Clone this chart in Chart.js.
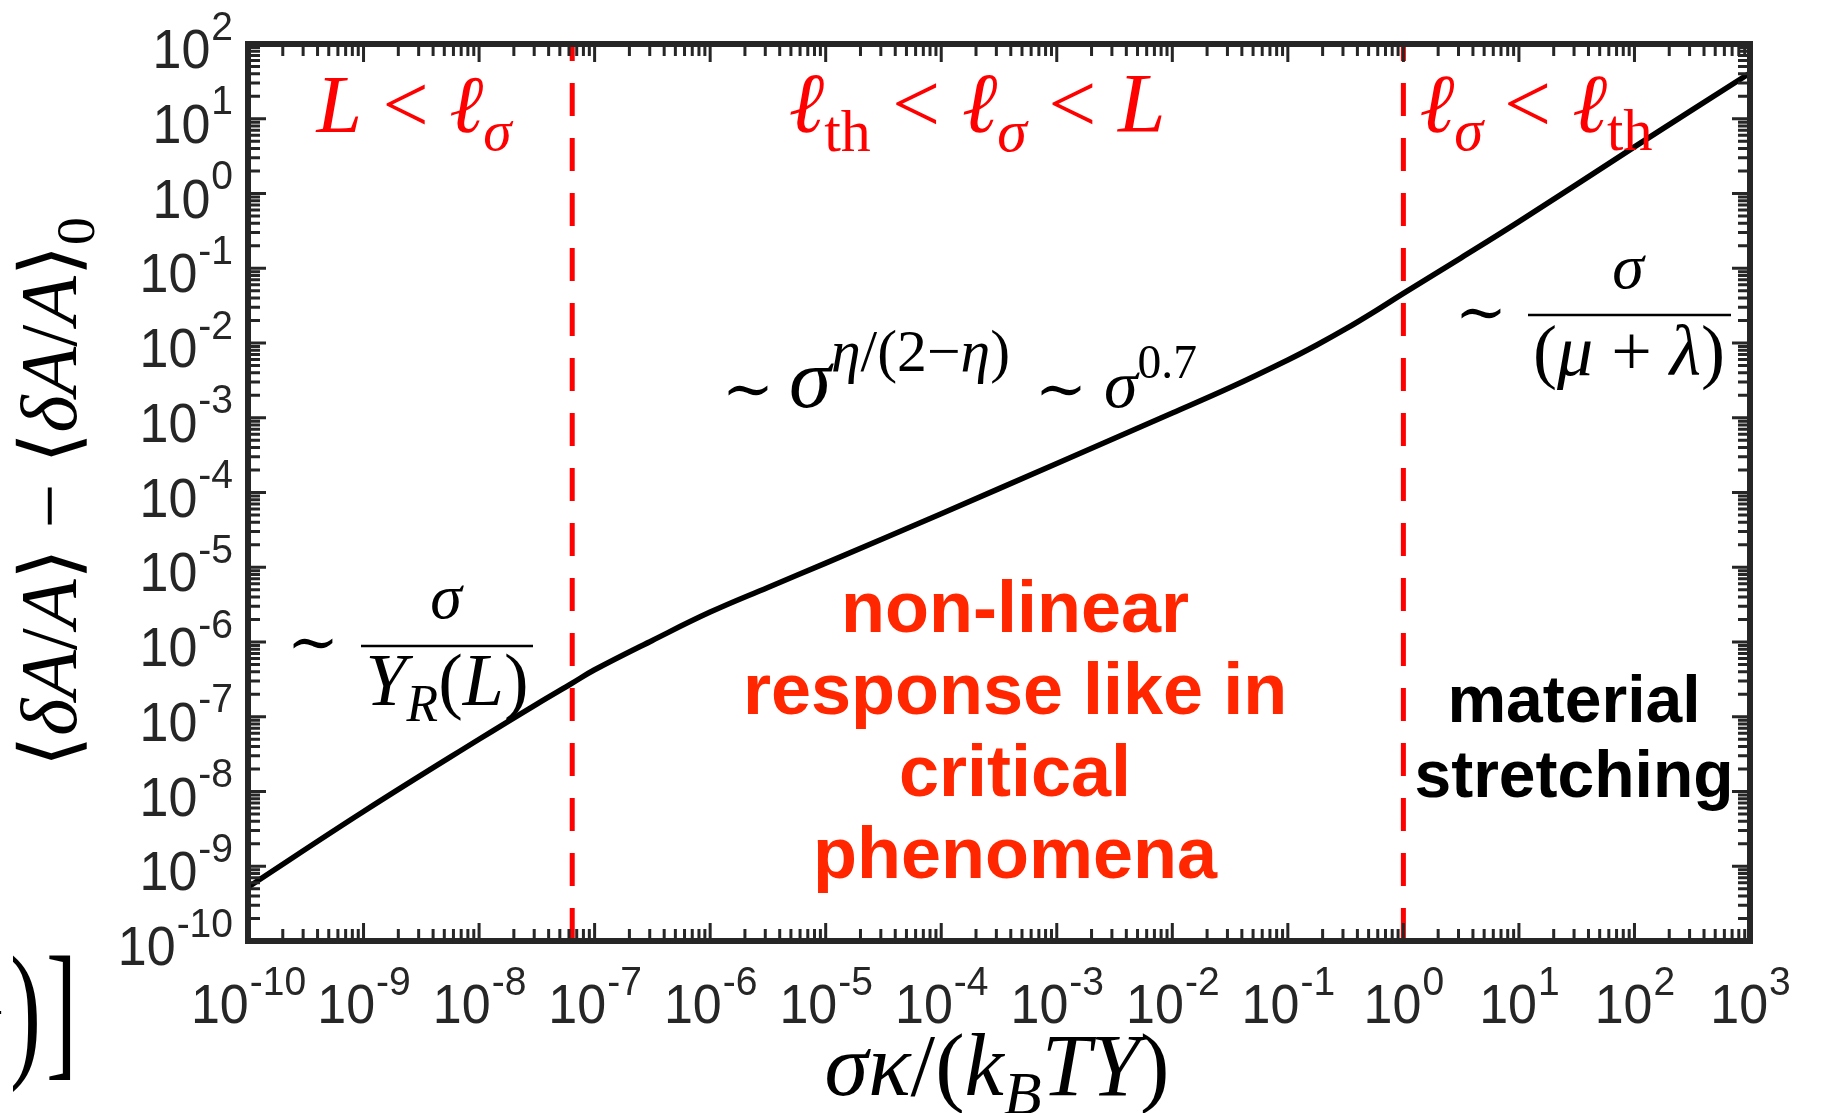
<!DOCTYPE html>
<html>
<head>
<meta charset="utf-8">
<script src="https://cdn.jsdelivr.net/npm/chart.js@4.4.1/dist/chart.umd.min.js"></script>
<style>
  html, body { margin: 0; padding: 0; background: #fff; }
  #contenedor { position: relative; width: 1826px; height: 1113px; }
</style>
</head>
<body>
<div id="contenedor"><canvas id="miGrafico"></canvas></div>
<script>
// Curva <dA/A> - <dA/A>_0 frente a sigma*kappa/(kB T Y)
const sigmaK = [1e-10, 1e-9, 1e-8, 3.16e-8, 6.4e-8, 1e-7, 3.16e-7, 1e-6, 3.16e-6, 1e-5, 1e-4,
                1e-3, 1e-2, 3.16e-2, 1e-1, 1.78e-1, 3.16e-1, 5.62e-1, 1, 3.16, 10, 100, 1000];
const deltaA = [5.25e-10, 5.4e-9, 5.0e-8, 1.48e-7, 2.82e-7, 4.25e-7, 1.05e-6, 2.51e-6, 5.37e-6, 1.135e-5, 5.2e-5,
                2.45e-4, 1.155e-3, 2.53e-3, 5.92e-3, 9.39e-3, 1.54e-2, 2.63e-2, 4.62e-2, 1.38e-1, 4.2e-1, 4.2, 41];

// Fronteras entre regímenes (líneas rojas)
const limites = [6.4e-8, 1];

// Rango de los ejes y exponentes de las marcas
const xMin = 1e-10, xMax = 1e3;
const yMin = 1e-10, yMax = 1e2;
const expX = [-10, -9, -8, -7, -6, -5, -4, -3, -2, -1, 0, 1, 2, 3];
const expY = [-10, -9, -8, -7, -6, -5, -4, -3, -2, -1, 0, 1, 2];
const menores = [2, 3, 4, 5, 6, 7, 8, 9];

const colorEje = '#262626';
const rojo = '#ff0000';
const rojoTexto = '#ff2600';
const serif = '"Liberation Serif", "DejaVu Serif", serif';
const sans = '"Liberation Sans", Arial, sans-serif';

function fuente(p, tam) {
    return (p.i ? 'italic ' : '') + (p.b ? 'bold ' : '') + (tam * (p.s || 1)) + 'px ' + (p.f || serif);
}

function medir(ctx, trozos, tam) {
    let w = 0;
    trozos.forEach(p => { ctx.font = fuente(p, tam); w += ctx.measureText(p.t).width; });
    return w;
}

// Texto "matemático": trozos con cursiva, escala y desplazamiento (sub/superíndices)
function textoMat(ctx, trozos, x, y, tam, alinear, ancho) {
    if (ancho) tam = tam * ancho / medir(ctx, trozos, tam);
    const w = medir(ctx, trozos, tam);
    let cx = alinear === 'center' ? x - w / 2 : alinear === 'right' ? x - w : x;
    ctx.textAlign = 'left';
    ctx.textBaseline = 'alphabetic';
    trozos.forEach(p => {
        ctx.font = fuente(p, tam);
        ctx.fillText(p.t, cx, y + (p.dy || 0) * tam);
        cx += ctx.measureText(p.t).width;
    });
    return tam;
}

// Etiqueta 10^e de las marcas (algo estirada en vertical)
function potencia(ctx, e, x, base, alinear) {
    ctx.font = '52px ' + sans;
    const w1 = ctx.measureText('10').width;
    ctx.font = '39px ' + sans;
    const w2 = ctx.measureText(String(e)).width;
    const x0 = alinear === 'center' ? x - (w1 + w2) / 2 : x - (w1 + w2);
    ctx.textAlign = 'left';
    ctx.textBaseline = 'alphabetic';
    ctx.save();
    ctx.translate(x0, base);
    ctx.scale(1, 1.05);
    ctx.font = '52px ' + sans;
    ctx.fillText('10', 0, 0);
    ctx.font = '39px ' + sans;
    ctx.fillText(String(e), w1 + 1, -27);
    ctx.restore();
}

const sub = (t, i) => ({ t: t, i: i, s: 0.7, dy: 0.22 });
const sup = (t, i) => ({ t: t, i: i, s: 0.7, dy: -0.42 });

const ejesPlugin = {
    id: 'ejes',
    afterDatasetsDraw(chart) {
        const ctx = chart.ctx;
        const { left, right, top, bottom } = chart.chartArea;
        const sx = chart.scales.x, sy = chart.scales.y;
        ctx.save();
        ctx.strokeStyle = colorEje;
        ctx.lineWidth = 3;
        ctx.beginPath();
        expX.forEach(e => {
            [1, ...menores].forEach(m => {
                const v = m * Math.pow(10, e);
                if (v > xMax) return;
                const px = sx.getPixelForValue(v);
                const len = m === 1 ? 18 : 12;
                ctx.moveTo(px, bottom); ctx.lineTo(px, bottom - len);
                ctx.moveTo(px, top); ctx.lineTo(px, top + len);
            });
        });
        expY.forEach(e => {
            [1, ...menores].forEach(m => {
                const v = m * Math.pow(10, e);
                if (v > yMax) return;
                const py = sy.getPixelForValue(v);
                const len = m === 1 ? 18 : 12;
                ctx.moveTo(left, py); ctx.lineTo(left + len, py);
                ctx.moveTo(right, py); ctx.lineTo(right - len, py);
            });
        });
        ctx.stroke();
        ctx.lineWidth = 6;
        ctx.strokeRect(left, top, right - left, bottom - top);

        ctx.fillStyle = colorEje;
        expX.forEach(e => potencia(ctx, e, sx.getPixelForValue(Math.pow(10, e)), bottom + 82, 'center'));
        expY.forEach(e => potencia(ctx, e, left - 16, sy.getPixelForValue(Math.pow(10, e)) + 24, 'right'));
        ctx.restore();
    },
    afterDraw(chart) {
        const ctx = chart.ctx;
        ctx.save();

        // Regímenes
        ctx.fillStyle = rojo;
        textoMat(ctx, [{ t: 'L', i: 1 }, { t: ' < ' }, { t: 'ℓ', i: 1 }, sub('σ', 1)], 414, 132, 64, 'center', 195);
        textoMat(ctx, [{ t: 'ℓ', i: 1 }, sub('th'), { t: ' < ' }, { t: 'ℓ', i: 1 }, sub('σ', 1), { t: ' < ' }, { t: 'L', i: 1 }],
                 977, 132, 64, 'center', 377);
        textoMat(ctx, [{ t: 'ℓ', i: 1 }, sub('σ', 1), { t: ' < ' }, { t: 'ℓ', i: 1 }, sub('th')], 1536, 132, 64, 'center', 233);

        // Leyes de escala
        ctx.fillStyle = '#000';
        ctx.strokeStyle = '#000';
        ctx.lineWidth = 2.5;
        textoMat(ctx, [{ t: '∼' }], 287, 663, 62, 'left');
        textoMat(ctx, [{ t: 'σ', i: 1 }], 446, 618, 64, 'center');
        ctx.beginPath(); ctx.moveTo(361, 646); ctx.lineTo(533, 646); ctx.stroke();
        textoMat(ctx, [{ t: 'Y', i: 1 }, sub('R', 1), { t: '(' }, { t: 'L', i: 1 }, { t: ')' }], 447, 705, 64, 'center', 163);

        textoMat(ctx, [{ t: '∼' }], 1455, 333, 62, 'left');
        textoMat(ctx, [{ t: 'σ', i: 1 }], 1628, 288, 64, 'center');
        ctx.beginPath(); ctx.moveTo(1528, 315); ctx.lineTo(1731, 315); ctx.stroke();
        textoMat(ctx, [{ t: '(' }, { t: 'μ', i: 1 }, { t: ' + ' }, { t: 'λ', i: 1 }, { t: ')' }], 1629, 375, 64, 'center', 192);

        textoMat(ctx, [{ t: '∼' }], 722, 410, 62, 'left');
        textoMat(ctx, [{ t: 'σ', i: 1 }, sup('η', 1), sup('/(2−'), sup('η', 1), sup(')')], 789, 407, 64, 'left', 221);
        textoMat(ctx, [{ t: '∼' }], 1035, 410, 62, 'left');
        textoMat(ctx, [{ t: 'σ', i: 1 }, sup('0.7')], 1104, 407, 64, 'left', 93);

        // Rótulos en negrita
        ctx.textAlign = 'center';
        ctx.fillStyle = rojoTexto;
        ctx.font = 'bold 72px ' + sans;
        ['non-linear', 'response like in', 'critical', 'phenomena'].forEach((t, k) => ctx.fillText(t, 1015, 632 + k * 82));
        ctx.fillStyle = '#000';
        ctx.font = 'bold 66px ' + sans;
        ctx.fillText('material', 1574, 722);
        ctx.fillText('stretching', 1574, 797);

        // Títulos de los ejes
        textoMat(ctx, [{ t: 'σκ', i: 1 }, { t: '/(' }, { t: 'k', i: 1 }, sub('B', 1), { t: 'TY', i: 1 }, { t: ')' }], 997, 1095, 66, 'center', 345);
        ctx.save();
        ctx.translate(76, 492);
        ctx.rotate(-Math.PI / 2);
        textoMat(ctx, [{ t: '⟨' }, { t: 'δA', i: 1 }, { t: '/' }, { t: 'A', i: 1 }, { t: '⟩ − ⟨' }, { t: 'δA', i: 1 }, { t: '/' }, { t: 'A', i: 1 }, { t: '⟩' }, sub('0')],
                 0, 0, 66, 'center', 550);
        ctx.restore();

        // Resto de la fórmula de la figura vecina
        ctx.save();
        ctx.translate(10, 1060);
        ctx.scale(0.62, 1);
        ctx.font = '150px ' + serif;
        ctx.textAlign = 'left';
        ctx.fillText(')', 0, 0);
        ctx.fillText(']', 58, 0);
        ctx.restore();
        ctx.font = '60px ' + serif;
        ctx.textAlign = 'right';
        ctx.fillText('+', 4, 1032);
        ctx.restore();
    }
};

const datosCurva = sigmaK.map((x, i) => ({ x: x, y: deltaA[i] }));
const datasets = [{
    data: datosCurva,
    borderColor: '#000',
    borderWidth: 5.5,
    pointRadius: 0,
    tension: 0.4,
    borderJoinStyle: 'round'
}];
limites.forEach(v => datasets.push({
    data: [{ x: v, y: yMin }, { x: v, y: yMax }],
    borderColor: rojo,
    borderWidth: 5,
    borderDash: [33, 22],
    borderCapStyle: 'butt',
    pointRadius: 0
}));

new Chart(document.getElementById('miGrafico'), {
    type: 'line',
    data: { datasets: datasets },
    options: {
        responsive: true,
        maintainAspectRatio: false,
        animation: false,
        layout: { padding: { left: 248, right: 76, top: 44, bottom: 172 } },
        plugins: { legend: { display: false }, tooltip: { enabled: false } },
        scales: {
            x: { type: 'logarithmic', min: xMin, max: xMax, display: false },
            y: { type: 'logarithmic', min: yMin, max: yMax, display: false }
        }
    },
    plugins: [ejesPlugin]
});
</script>
</body>
</html>
